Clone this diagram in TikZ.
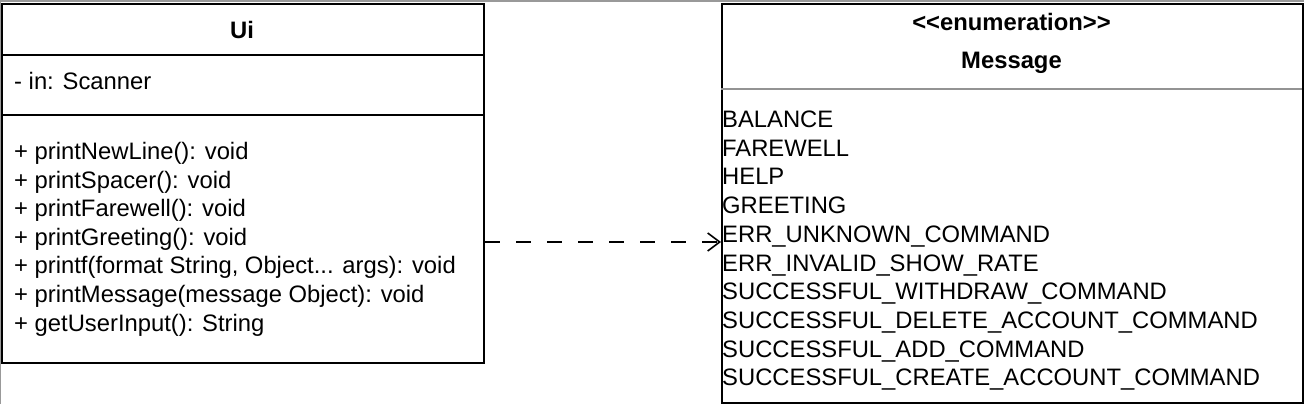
\documentclass[tikz,border=0pt]{standalone}
\usepackage{fontspec}
\setmainfont{Liberation Sans}
\usetikzlibrary{arrows.meta}
\begin{document}
\begin{tikzpicture}[x=1pt,y=-1pt,
  box/.style={draw=black,line width=2pt,minimum width=#1,anchor=north west,inner sep=0pt},
  txt/.style={anchor=base west,inner sep=0pt,font=\fontsize{23.8}{28.7}\selectfont},
  ttl/.style={anchor=base,inner sep=0pt,font=\fontsize{23.8}{28.7}\selectfont\bfseries},
  dep/.style={line width=2pt,dash pattern=on 15pt off 16pt,-{Straight Barb[length=12pt,width=18pt,line width=1.6pt]}}]
\useasboundingbox (0,0) rectangle (1304,404);
\fill[white] (0,0) rectangle (1304,404);
\draw[gray!80,line width=2pt] (0,1) -- (1304,1);
\draw[gray!80,line width=1.5pt] (0.5,0) -- (0.5,404);
% Ui class
\node[box=482pt,minimum height=359pt] (ui) at (1,3) {};
\draw[line width=2pt] (1,55) coordinate (ud1) -- (483,55);
\draw[line width=2pt] (1,115) coordinate (ud2) -- (483,115);
\node[ttl] (uititle) at (242,38.5) {Ui};
\node[txt] (uiattr) at (14,89.5) {- in: Scanner};
\node[txt] (uim0) at (14,159.5) {+ printNewLine(): void};
\node[txt] (uim1) at (14,188.1) {+ printSpacer(): void};
\node[txt] (uim2) at (14,216.7) {+ printFarewell(): void};
\node[txt] (uim3) at (14,245.3) {+ printGreeting(): void};
\node[txt] (uim4) at (14,273.9) {+ printf(format String, Object... args): void};
\node[txt] (uim5) at (14,302.5) {+ printMessage(message Object): void};
\node[txt] (uim6) at (14,331.1) {+ getUserInput(): String};
% Message enum
\node[box=581pt,minimum height=399pt] (msg) at (721,3) {};
\draw[gray!85,line width=2pt] (721,89) -- (1302,89);
\node[ttl] (stereo) at (1011.5,30.5) {\mbox{<}\mbox{<}enumeration\mbox{>}\mbox{>}};
\node[ttl] (msgtitle) at (1011.5,68.5) {Message};
\foreach \t [count=\i from 0] in {BALANCE,FAREWELL,HELP,GREETING,ERR\_UNKNOWN\_COMMAND,ERR\_INVALID\_SHOW\_RATE,SUCCESSFUL\_WITHDRAW\_COMMAND,SUCCESSFUL\_DELETE\_ACCOUNT\_COMMAND,SUCCESSFUL\_ADD\_COMMAND,SUCCESSFUL\_CREATE\_ACCOUNT\_COMMAND}
  \node[txt] (lit\i) at (722,127.5+28.7*\i) {\t};
% dependency
\path (ui.north east) ++(0,239) coordinate (a1);
\path (msg.north west) ++(0,239) coordinate (a2);
\draw[dep] (a1) -- (a2);
\end{tikzpicture}
\end{document}
